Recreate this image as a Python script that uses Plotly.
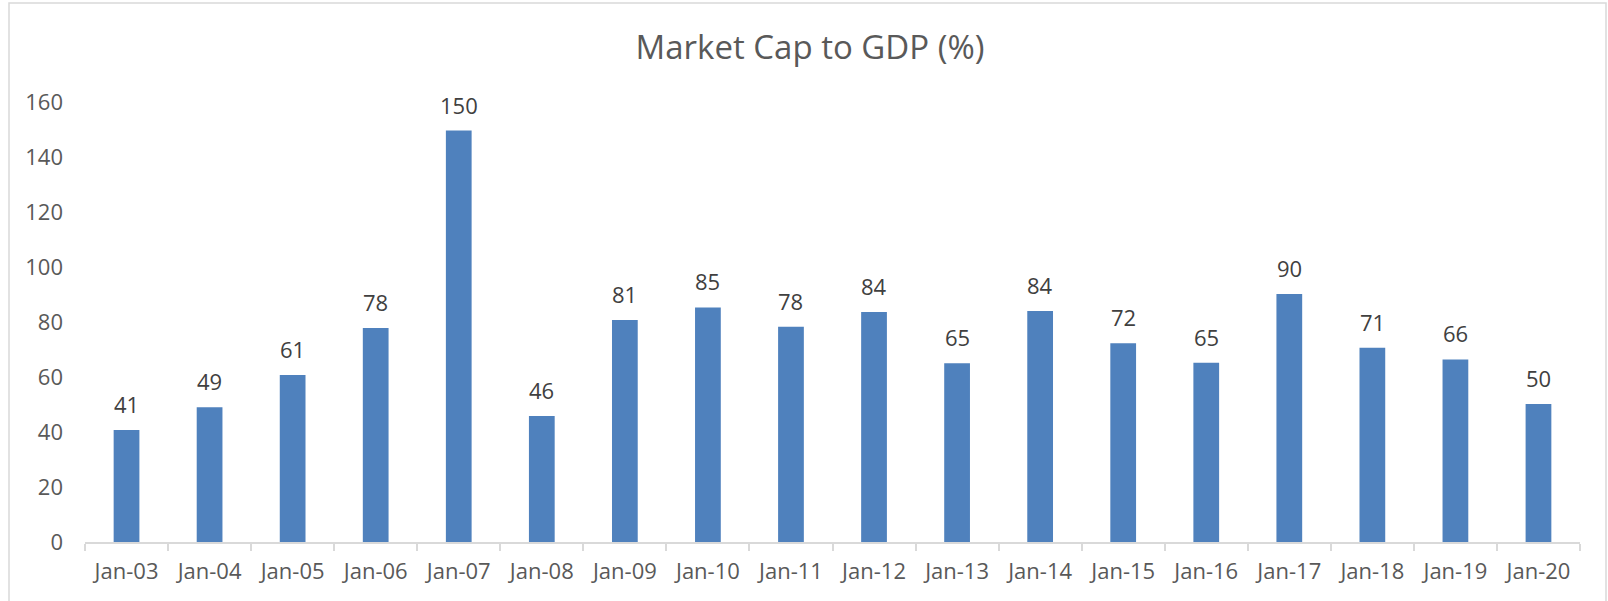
import plotly.graph_objects as go

categories = ["Jan-03", "Jan-04", "Jan-05", "Jan-06", "Jan-07", "Jan-08", "Jan-09", "Jan-10", "Jan-11",
              "Jan-12", "Jan-13", "Jan-14", "Jan-15", "Jan-16", "Jan-17", "Jan-18", "Jan-19", "Jan-20"]
values = [40.7, 49.0, 60.7, 77.8, 149.6, 45.8, 80.7, 85.3, 78.3, 83.6, 65.0, 84.0, 72.3, 65.2, 90.2, 70.6, 66.4, 50.2]
labels = ["41", "49", "61", "78", "150", "46", "81", "85", "78", "84", "65", "84", "72", "65", "90", "71", "66", "50"]
y_ticks = [0, 20, 40, 60, 80, 100, 120, 140, 160]

W, H = 1608, 601
L, R, T, B = 85, 28, 102, 59
pw, ph = W - L - R, H - T - B

FONT = "Open Sans"
GRAY = "#595959"

fig = go.Figure(go.Bar(
    x=categories, y=values,
    marker=dict(color="#4F81BD", line=dict(width=0)),
))

for c, v, t in zip(categories, values, labels):
    fig.add_annotation(x=c, y=v, text=t, showarrow=False, yanchor="bottom", yshift=9,
                       font=dict(family=FONT, size=22, color="#404040"))

fig.update_layout(
    width=W, height=H,
    margin=dict(l=L, r=R, t=T, b=B, pad=0),
    paper_bgcolor="white", plot_bgcolor="white",
    bargap=0.69,
    showlegend=False,
    title=dict(text="Market Cap to GDP (%)", x=810 / W, xref="container", xanchor="center",
               y=1 - 47 / H, yref="container", yanchor="middle",
               font=dict(family=FONT, size=33, color=GRAY)),
    font=dict(family=FONT, color=GRAY),
    xaxis=dict(showline=True, linecolor="#D9D9D9", linewidth=1.5,
               ticks="outside", tickson="boundaries", ticklen=7, tickcolor="#D9D9D9", tickwidth=1.5,
               tickfont=dict(family=FONT, size=22, color=GRAY), showgrid=False, zeroline=False,
               ticklabelstandoff=9),
    yaxis=dict(range=[0, 160], tickvals=y_ticks, showgrid=False, zeroline=False, showline=False,
               ticks="", tickfont=dict(family=FONT, size=22, color=GRAY), ticklabelstandoff=21),
    shapes=[dict(type="rect", xref="paper", yref="paper",
                 x0=(9 - L) / pw, x1=(1606 - L) / pw,
                 y0=(T + ph - 620) / ph, y1=(T + ph - 3) / ph,
                 line=dict(color="#D9D9D9", width=1.5), fillcolor="rgba(0,0,0,0)", layer="below")],
)

fig.write_html("out.html", config={"displayModeBar": False},
               post_script="document.body.style.margin='0';document.body.style.overflow='hidden';")
